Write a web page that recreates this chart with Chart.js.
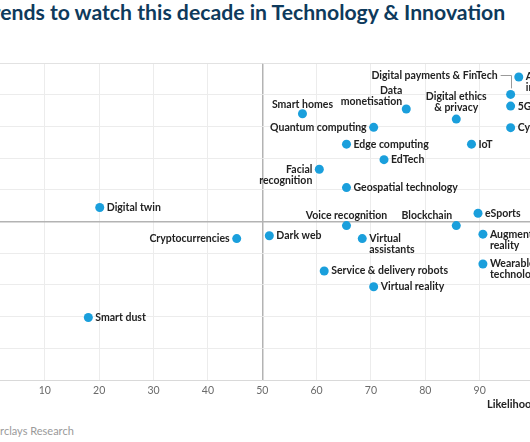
<!DOCTYPE html>
<html>
<head>
<meta charset="utf-8">
<script src="https://cdn.jsdelivr.net/npm/chart.js@4.4.0/dist/chart.umd.min.js"></script>
<style>
  html, body { margin: 0; padding: 0; background: #fff; }
  body { width: 530px; height: 442px; position: relative; overflow: hidden; font-family: Lato, 'Open Sans', sans-serif; }
  #title { position: absolute; top: -1px; left: -20px; white-space: nowrap; font-weight: 700; font-size: 21.2px; color: #0e3a5c; }
  #chartBox { position: absolute; left: -14px; top: 55px; width: 560px; height: 345px; }
  #xTitle { position: absolute; left: 487px; top: 397px; font-weight: 700; font-size: 11px; color: #222; white-space: nowrap; }
  #source { position: absolute; top: 424px; left: -40px; font-size: 11px; color: #9a9a9a; white-space: nowrap; }
</style>
</head>
<body>
<div id="title"><span id="titlePre">Tr</span>ends to watch this decade in Technology &amp; Innovation</div>
<div id="chartBox"><canvas id="chart" width="560" height="345"></canvas></div>
<div id="xTitle">Likelihood</div>
<div id="source"><span id="sourcePre">Source: Ba</span>rclays Research</div>
<script>
// Trends: likelihood (x) vs impact (y)
const topics = [
  'Artificial intelligence', 'Digital payments & FinTech', '5G', 'Cybersecurity',
  'Data monetisation', 'Digital ethics & privacy', 'Smart homes', 'Quantum computing',
  'Edge computing', 'IoT', 'EdTech', 'Facial recognition', 'Geospatial technology',
  'eSports', 'Voice recognition', 'Blockchain', 'Dark web', 'Virtual assistants',
  'Augmented reality', 'Wearable technology', 'Service & delivery robots',
  'Virtual reality', 'Digital twin', 'Cryptocurrencies', 'Smart dust'
];
const likelihood = [
  97.2, 95.7, 95.7, 95.7,
  76.5, 85.7, 57.4, 70.5,
  65.5, 88.5, 72.4, 60.5, 65.5,
  89.7, 65.5, 85.7, 51.3, 68.4,
  90.6, 90.6, 61.4,
  70.5, 20.1, 45.3, 18.0
];
const impact = [
  95.6, 90.1, 86.4, 79.6,
  85.5, 82.3, 84.0, 79.7,
  74.4, 74.4, 69.5, 66.5, 60.7,
  52.6, 48.7, 48.7, 45.5, 44.6,
  46.0, 36.6, 34.4,
  29.4, 54.4, 44.6, 19.7
];
const xTickValues = [0, 10, 20, 30, 40, 50, 60, 70, 80, 90];

// where each label sits relative to its point (default: to the right)
const labelPlacement = {
  'Artificial intelligence': { lines: ['Artificial', 'intelligence'] },
  'Digital payments & FinTech': { align: 'right', dx: -13, dy: -19, connector: true },
  'Data monetisation': { align: 'right', dx: -4, dy: -18, lines: ['Data', 'monetisation'] },
  'Digital ethics & privacy': { align: 'center', dx: 0, dy: -22, lines: ['Digital ethics', '& privacy'] },
  'Smart homes': { align: 'center', dx: 0, dy: -9 },
  'Quantum computing': { align: 'right', dx: -7, dy: 0 },
  'Facial recognition': { align: 'right', dx: -7, dy: 0, lines: ['Facial', 'recognition'] },
  'Voice recognition': { align: 'center', dx: 0, dy: -10 },
  'Blockchain': { align: 'right', dx: -4, dy: -10 },
  'Virtual assistants': { lines: ['Virtual', 'assistants'] },
  'Augmented reality': { lines: ['Augmented', 'reality'] },
  'Wearable technology': { lines: ['Wearable', 'technology'] },
  'Cryptocurrencies': { align: 'right', dx: -7, dy: 0 }
};

// crop the first letters off the title and source like the reference
document.getElementById('title').style.left = -document.getElementById('titlePre').offsetWidth + 'px';
document.getElementById('source').style.left = -document.getElementById('sourcePre').offsetWidth + 'px';

const pointLabels = {
  id: 'pointLabels',
  afterDatasetsDraw(chart) {
    const ctx = chart.ctx;
    const meta = chart.getDatasetMeta(0);
    ctx.save();
    ctx.font = 'bold 10.5px Lato';
    ctx.fillStyle = '#222';
    ctx.textBaseline = 'middle';
    meta.data.forEach((pt, i) => {
      const name = topics[i];
      const p = labelPlacement[name] || {};
      const align = p.align || 'left';
      const dx = p.dx !== undefined ? p.dx : 7;
      const dy = p.dy || 0;
      const lines = p.lines || [name];
      ctx.textAlign = align;
      lines.forEach((line, j) => {
        ctx.fillText(line, pt.x + dx, pt.y + dy + j * 11);
      });
      if (p.connector) {
        ctx.strokeStyle = '#9a9a9a';
        ctx.lineWidth = 1;
        ctx.beginPath();
        ctx.moveTo(pt.x + dx + 3, Math.round(pt.y + dy) + 0.5);
        ctx.lineTo(Math.round(pt.x) + 0.5, Math.round(pt.y + dy) + 0.5);
        ctx.lineTo(Math.round(pt.x) + 0.5, pt.y - 6);
        ctx.stroke();
      }
    });
    ctx.restore();
  }
};

const gridColor = (c) => (c.tick && c.tick.value === 50 ? '#b3b3b3' : '#ececec');
const gridWidth = (c) => (c.tick && c.tick.value === 50 ? 1.5 : 1);

new Chart(document.getElementById('chart'), {
  type: 'scatter',
  data: {
    datasets: [{
      data: likelihood.map((x, i) => ({ x: x, y: impact[i] })),
      backgroundColor: '#1a9fdc',
      borderWidth: 0,
      pointRadius: 4.5,
      pointHoverRadius: 4.5
    }]
  },
  options: {
    responsive: false,
    devicePixelRatio: 1,
    animation: false,
    layout: { padding: { left: 0, right: 12, top: 8, bottom: 0 } },
    plugins: {
      legend: { display: false },
      tooltip: { enabled: false }
    },
    scales: {
      x: {
        type: 'linear',
        min: 0,
        max: 100,
        afterBuildTicks: (s) => { s.ticks = xTickValues.map(v => ({ value: v })); },
        afterFit: (s) => { s.height = 20; s.paddingLeft = 0; s.paddingRight = 0; },
        ticks: {
          color: '#6a6a6a',
          padding: 4,
          font: { family: 'Lato', size: 10.5 }
        },
        grid: { color: gridColor, lineWidth: gridWidth, drawTicks: false },
        border: { color: '#d9d9d9' }
      },
      y: {
        type: 'linear',
        min: 0,
        max: 100,
        ticks: { stepSize: 10, display: false },
        afterFit: (s) => { s.width = 0; },
        grid: { color: (c) => (c.tick && c.tick.value === 100 ? '#e2e2e2' : gridColor(c)), lineWidth: gridWidth, drawTicks: false },
        border: { display: false }
      }
    }
  },
  plugins: [pointLabels]
});
</script>
</body>
</html>
